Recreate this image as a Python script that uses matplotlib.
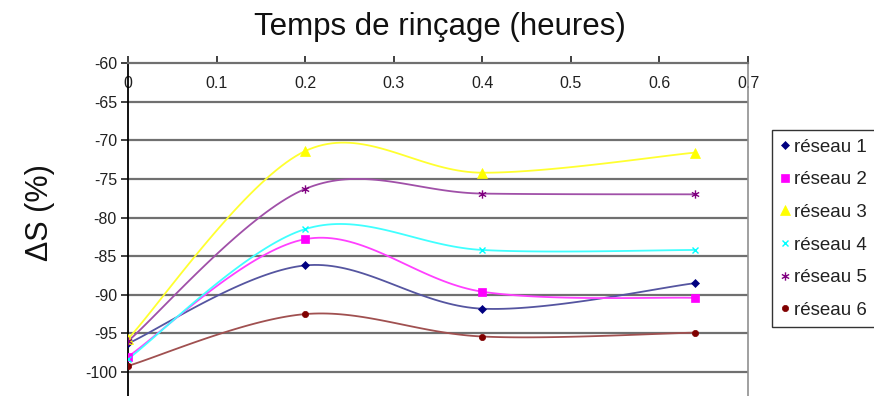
import numpy as np
import matplotlib
matplotlib.use("Agg")
import matplotlib.pyplot as plt
from matplotlib.path import Path

plt.rcParams['font.family'] = ['Liberation Sans', 'DejaVu Sans']
plt.rcParams['axes.unicode_minus'] = False

x = [0.0, 0.2, 0.4, 0.64]
series_names = ["réseau 1", "réseau 2", "réseau 3", "réseau 4", "réseau 5", "réseau 6"]
reseau1 = [-96.3, -86.2, -91.8, -88.5]
reseau2 = [-98.0, -82.8, -89.6, -90.4]
reseau3 = [-95.7, -71.4, -74.2, -71.6]
reseau4 = [-98.3, -81.5, -84.2, -84.2]
reseau5 = [-96.0, -76.3, -76.9, -77.0]
reseau6 = [-99.2, -92.5, -95.4, -94.9]
series = [reseau1, reseau2, reseau3, reseau4, reseau5, reseau6]

star = Path([(0, -1), (0, 1), (-0.87, -0.5), (0.87, 0.5), (-0.87, 0.5), (0.87, -0.5)],
            [Path.MOVETO, Path.LINETO, Path.MOVETO, Path.LINETO, Path.MOVETO, Path.LINETO])

marker_colors = ["#000080", "#FF00FF", "#FFFF00", "#00FFFF", "#800080", "#800000"]
line_colors = ["#5555a0", "#FF40FF", "#FFFF30", "#40FFFF", "#a050a8", "#a05050"]
markers = ["D", "s", "^", "x", star, "o"]
msizes = [4.5, 5.5, 7.5, 4.5, 6, 4.5]
mews = [0.5, 0.5, 0.5, 1.0, 1.0, 0.5]


def smooth(xs, ys, n=40):
    xs = np.asarray(xs, float); ys = np.asarray(ys, float)
    P = np.column_stack([xs, ys])
    out = []
    for i in range(len(P) - 1):
        p0 = P[i - 1] if i > 0 else P[i]
        p1 = P[i]; p2 = P[i + 1]
        p3 = P[i + 2] if i + 2 < len(P) else P[i + 1]
        c1 = p1 + (p2 - p0) / 6.0
        c2 = p2 - (p3 - p1) / 6.0
        t = np.linspace(0, 1, n)[:, None]
        b = (1 - t) ** 3 * p1 + 3 * (1 - t) ** 2 * t * c1 + 3 * (1 - t) * t ** 2 * c2 + t ** 3 * p2
        out.append(b if i == 0 else b[1:])
    B = np.vstack(out)
    return B[:, 0], B[:, 1]


fig = plt.figure(figsize=(8.74, 3.96), dpi=100)
ax = fig.add_axes([128 / 874, 0, (748 - 128) / 874, (396 - 63) / 396])
ax.set_xlim(0, 0.7)
ax.set_ylim(-103.1, -60)

for yv in range(-100, -60, 5):
    ax.axhline(yv, color="#707070", lw=1.6, zorder=1)

handles = []
for ys, name, mc, lc, mk, ms, mew in zip(series, series_names, marker_colors, line_colors, markers, msizes, mews):
    sx, sy = smooth(x, ys)
    ax.plot(sx, sy, color=lc, lw=1.3, zorder=2)
    h = ax.plot(x, ys, linestyle="none", marker=mk, color=mc, markersize=ms, zorder=3,
                markeredgewidth=mew, label=name)[0]
    handles.append(h)

ax.xaxis.tick_top()
ax.set_xticks(np.arange(0, 0.71, 0.1))
ax.set_xticklabels(["0", "0.1", "0.2", "0.3", "0.4", "0.5", "0.6", "0.7"])
ax.tick_params(axis="x", direction="out", length=5, width=1.2, pad=-25, labelsize=11.5,
               colors="#202020")
ax.set_yticks(range(-100, -59, 5))
ax.tick_params(axis="y", direction="out", length=5, width=1.2, labelsize=11.5, pad=3,
               colors="#202020")

ax.spines["left"].set_color("#000000")
ax.spines["left"].set_linewidth(1.3)
ax.spines["top"].set_color("#707070")
ax.spines["top"].set_linewidth(1.6)
ax.spines["right"].set_color("#909090")
ax.spines["right"].set_linewidth(1.2)
ax.spines["bottom"].set_visible(False)

fig.text(440 / 874, 1 - 27 / 396, "Temps de rinçage (heures)", ha="center", va="center",
         fontsize=22.5, color="#111111")
fig.text(40 / 874, 1 - 213 / 396, "ΔS (%)", ha="center", va="center", fontsize=22,
         rotation=90, color="#111111")

leg = fig.legend(handles=handles, loc="upper left", bbox_to_anchor=(772 / 874, 1 - 130 / 396),
                 frameon=True, fancybox=False, edgecolor="#000000", fontsize=13.5,
                 handlelength=0.5, handletextpad=0.25, labelspacing=0.83, borderpad=0.45,
                 borderaxespad=0)
leg.get_frame().set_linewidth(1.0)
for t in leg.get_texts():
    t.set_color("#222222")

fig.savefig("out.png", dpi=100)
